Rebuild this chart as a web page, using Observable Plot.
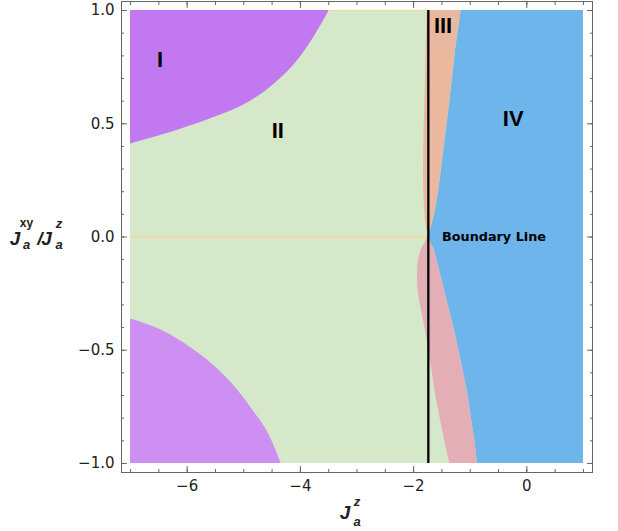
<!DOCTYPE html>
<html>
<head>
<meta charset="utf-8">
<script src="https://cdn.jsdelivr.net/npm/d3@7"></script>
<script src="https://cdn.jsdelivr.net/npm/@observablehq/plot@0.6"></script>
<style>
  html, body { margin: 0; padding: 0; background: #fff; }
  #chart { width: 618px; height: 531px; }
</style>
</head>
<body>
<div id="chart"></div>
<script>
// ---- Data ----
const xRange = [-7, 1];
const yRange = [-1, 1];
const boundaryX = -1.74;

// Region I (upper, purple): lower boundary y(x), filled up to y = 1
const upperIx = [-7.0, -6.5, -6.0, -5.5, -5.0, -4.5, -4.0, -3.75, -3.49];
const upperIy = [0.411, 0.446, 0.486, 0.530, 0.583, 0.667, 0.795, 0.887, 1.0];

// Region I (lower, lighter purple): upper boundary y(x), filled down to y = -1
const lowerIx = [-7.0, -6.46, -5.93, -5.58, -5.22, -4.87, -4.51, -4.34];
const lowerIy = [-0.362, -0.411, -0.490, -0.556, -0.644, -0.755, -0.896, -1.0];

// Region III (upper, salmon): left / right edges as functions of y
const IIIy     = [0, 0.05, 0.1, 0.2, 0.4, 0.6, 0.8, 1.0];
const IIIleft  = [-1.74, -1.78, -1.80, -1.82, -1.82, -1.80, -1.78, -1.76];
const IIIright = [-1.74, -1.68, -1.63, -1.56, -1.46, -1.36, -1.27, -1.16];

// Lower pink strip: left / right edges as functions of y
const pinkY     = [0, -0.05, -0.1, -0.2, -0.3, -0.4, -0.5, -0.6, -0.7, -0.8, -0.9, -1.0];
const pinkLeft  = [-1.74, -1.85, -1.91, -1.93, -1.88, -1.80, -1.73, -1.67, -1.61, -1.53, -1.45, -1.36];
const pinkRight = [-1.74, -1.65, -1.59, -1.49, -1.39, -1.29, -1.20, -1.12, -1.04, -0.98, -0.92, -0.87];

// Region labels
const labelText = ["I", "II", "III", "IV", "Boundary Line"];
const labelX    = [-6.48, -4.40, -1.48, -0.24, -0.58];
const labelY    = [0.78, 0.467, 0.934, 0.52, 0.0];
const labelSize = [22, 22, 22, 22, 12.8];
const labelFont = ["'Liberation Sans', Arial, sans-serif", "'Liberation Sans', Arial, sans-serif",
                   "'Liberation Sans', Arial, sans-serif", "'Liberation Sans', Arial, sans-serif",
                   "'DejaVu Sans', sans-serif"];

// Ticks
const xMajor = [-6, -4, -2, 0];
const xMinor = [-7, -6.5, -6, -5.5, -5, -4.5, -4, -3.5, -3, -2.5, -2, -1.5, -1, -0.5, 0, 0.5, 1];
const yMajor = [-1, -0.5, 0, 0.5, 1];
const yMinor = [-1, -0.9, -0.8, -0.7, -0.6, -0.5, -0.4, -0.3, -0.2, -0.1, 0, 0.1, 0.2, 0.3, 0.4, 0.5, 0.6, 0.7, 0.8, 0.9, 1];

// ---- Build tables ----
const bg = [{x1: xRange[0], x2: xRange[1], y1: yRange[0], y2: yRange[1]}];
const upperI = upperIx.map((x, i) => ({x, y1: upperIy[i], y2: yRange[1]}));
const lowerI = lowerIx.map((x, i) => ({x, y1: yRange[0], y2: lowerIy[i]}));
const regIII = IIIy.map((y, i) => ({y, x1: IIIleft[i], x2: IIIright[i]}));
const pink = pinkY.map((y, i) => ({y, x1: pinkLeft[i], x2: pinkRight[i]}));
const blue = [
  ...pinkY.map((y, i) => ({y, x1: pinkRight[i], x2: xRange[1]})).reverse(),
  ...IIIy.slice(1).map((y, i) => ({y, x1: IIIright[i + 1], x2: xRange[1]}))
];
const zeroLine = [{x: xRange[0], y: 0}, {x: boundaryX, y: 0}];
const topLine = [{x: upperIx[upperIx.length - 1], y: yRange[1]}, {x: boundaryX, y: yRange[1]}];
const labels = labelText.map((t, i) => ({t, x: labelX[i], y: labelY[i], s: labelSize[i], f: labelFont[i]}));
const vline = [{x: boundaryX, y1: yRange[0], y2: yRange[1]}];

const fmt = d => (d < 0 ? "\u2212" : "") + Math.abs(d).toFixed(1);
const fmtX = d => (d < 0 ? "\u2212" : "") + Math.abs(d);
const tickFont = "'DejaVu Sans', sans-serif";

const plot = Plot.plot({
  width: 618,
  height: 531,
  marginLeft: 121,
  marginRight: 26,
  marginTop: 1,
  marginBottom: 59,
  style: {fontFamily: "'Liberation Sans', Arial, sans-serif", background: "#fff", overflow: "visible"},
  x: {domain: [-7.16, 1.16], label: null},
  y: {domain: [-1.04, 1.04], label: null},
  marks: [
    Plot.rect(bg, {x1: "x1", x2: "x2", y1: "y1", y2: "y2", fill: "#d5e8c9"}),
    Plot.areaY(upperI, {x: "x", y1: "y1", y2: "y2", fill: "#c178f0", curve: "monotone-x"}),
    Plot.areaY(lowerI, {x: "x", y1: "y1", y2: "y2", fill: "#cd8ff2", curve: "monotone-x"}),
    Plot.areaX(blue, {y: "y", x1: "x1", x2: "x2", fill: "#6db5ea", curve: "catmull-rom"}),
    Plot.areaX(regIII, {y: "y", x1: "x1", x2: "x2", fill: "#eab89f", curve: "catmull-rom"}),
    Plot.areaX(pink, {y: "y", x1: "x1", x2: "x2", fill: "#e4aeb6", curve: "catmull-rom"}),
    Plot.line(zeroLine, {x: "x", y: "y", stroke: "#f3d9a4", strokeWidth: 2}),
    Plot.line(topLine, {x: "x", y: "y", stroke: "#f3d9a4", strokeWidth: 1.5, strokeOpacity: 0.8}),
    Plot.ruleX(vline, {x: "x", y1: "y1", y2: "y2", stroke: "#000", strokeWidth: 2.3}),
    Plot.text(labels.slice(0, 4), {x: "x", y: "y", text: "t", fontSize: 22, fontWeight: "bold", fill: "#000"}),
    Plot.text(labels.slice(4), {x: "x", y: "y", text: "t", fontSize: 12.8, fontWeight: "bold", fill: "#000", fontFamily: "'DejaVu Sans', sans-serif"}),
    Plot.frame({stroke: "#666", strokeWidth: 1}),
    // minor ticks (inward), all four sides
    Plot.axisX(xMinor, {anchor: "bottom", tickSize: -3, tickFormat: () => "", label: null, stroke: "#666"}),
    Plot.axisX(xMinor, {anchor: "top", tickSize: -3, tickFormat: () => "", label: null, stroke: "#666"}),
    Plot.axisY(yMinor, {anchor: "left", tickSize: -3, tickFormat: () => "", label: null, stroke: "#666"}),
    Plot.axisY(yMinor, {anchor: "right", tickSize: -3, tickFormat: () => "", label: null, stroke: "#666"}),
    // major ticks (inward)
    Plot.axisX(xMajor, {anchor: "bottom", tickSize: -6, tickFormat: () => "", label: null, stroke: "#666"}),
    Plot.axisX(xMajor, {anchor: "top", tickSize: -6, tickFormat: () => "", label: null, stroke: "#666"}),
    Plot.axisY(yMajor, {anchor: "left", tickSize: -6, tickFormat: () => "", label: null, stroke: "#666"}),
    Plot.axisY(yMajor, {anchor: "right", tickSize: -6, tickFormat: () => "", label: null, stroke: "#666"}),
    // tick labels
    Plot.axisX(xMajor, {anchor: "bottom", tickSize: 0, tickPadding: 8, tickFormat: fmtX, fontSize: 15, fontFamily: tickFont, label: null, fill: "#222"}),
    Plot.axisY(yMajor, {anchor: "left", tickSize: 0, tickPadding: 7, tickFormat: fmt, fontSize: 15, fontFamily: tickFont, label: null, fill: "#222"})
  ]
});

document.getElementById("chart").appendChild(plot);

// Axis titles with sub/superscripts
const svg = d3.select(plot);
const ff = "'Liberation Sans', Arial, sans-serif";
function addText(x, y, str, size, italic) {
  svg.append("text")
    .attr("x", x).attr("y", y)
    .attr("font-family", ff)
    .attr("font-size", size)
    .attr("font-weight", "bold")
    .attr("font-style", italic ? "italic" : "normal")
    .attr("fill", "#222")
    .text(str);
}
// x-axis title: J_a^z
addText(345, 519, "J", 19, true);
addText(357, 506, "z", 13, true);
addText(357, 526, "a", 13, true);
// y-axis title: J_a^xy / J_a^z
addText(15, 245, "J", 19, true);
addText(26.5, 227, "xy", 12, false);
addText(26.5, 249, "a", 13, true);
addText(40, 245, "/", 19, true);
addText(46.5, 245, "J", 19, true);
addText(59, 228, "z", 13, true);
addText(59, 249, "a", 13, true);
</script>
</body>
</html>
